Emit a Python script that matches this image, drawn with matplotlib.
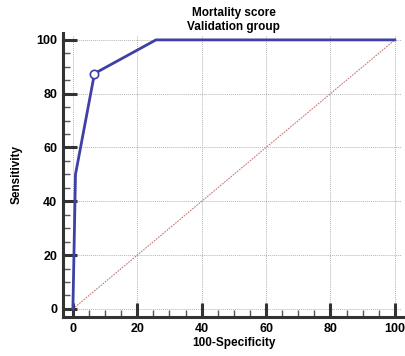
import numpy as np
import matplotlib.pyplot as plt
from matplotlib.ticker import MultipleLocator

# ROC curve points
fpr = [0, 0.8, 6.7, 25.8, 100]
tpr = [0, 50, 87.5, 100, 100]
# optimal cut-off point
cut_x = [6.7]
cut_y = [87.5]
ticks = [0, 20, 40, 60, 80, 100]

plt.rcParams['font.family'] = ['Liberation Sans', 'DejaVu Sans']
plt.rcParams['font.weight'] = 'bold'

fig = plt.figure(figsize=(4.06, 3.56), dpi=100)
ax = fig.add_axes([0.155, 0.1096, 0.842, 0.798])
ax.set_xlim(-3.1, 103.1)
ax.set_ylim(-3.0, 102.6)

# grid
for t in ticks:
    ax.plot([t, t], [0, 102], color='#b4b4b4', lw=0.7, ls=(0, (1, 1)), zorder=1)
    ax.plot([0, 102], [t, t], color='#b4b4b4', lw=0.7, ls=(0, (1, 1)), zorder=1)

# diagonal reference
ax.plot([0, 100], [0, 100], color='#c47878', lw=0.8, ls=(0, (1.5, 1)), zorder=2)

# ROC curve
ax.plot(fpr, tpr, color='#3f3fa8', lw=2, zorder=3, clip_on=False)
ax.plot(cut_x, cut_y, 'o', ms=6, mfc='white', mec='#3f3fa8', mew=1.2, zorder=4)

for s in ['top', 'right']:
    ax.spines[s].set_visible(False)
for s in ['left', 'bottom']:
    ax.spines[s].set_linewidth(2.2)
    ax.spines[s].set_color('#333333')

ax.xaxis.set_minor_locator(MultipleLocator(5))
ax.yaxis.set_minor_locator(MultipleLocator(5))
ax.tick_params(which='major', direction='in', length=10, width=2.2, color='#333333',
               labelsize=9, pad=4)
ax.tick_params(which='minor', direction='in', length=5, width=1, color='#555555')
ax.set_xticks(ticks)
ax.set_yticks(ticks)

ax.set_xlabel('100-Specificity', fontsize=8.5, fontweight='bold', labelpad=2)
ax.set_ylabel('Sensitivity', fontsize=8.5, fontweight='bold', labelpad=10)
ax.set_title('Mortality score\nValidation group', fontsize=8.5, fontweight='bold', pad=2)

fig.savefig('out.png', dpi=100)
